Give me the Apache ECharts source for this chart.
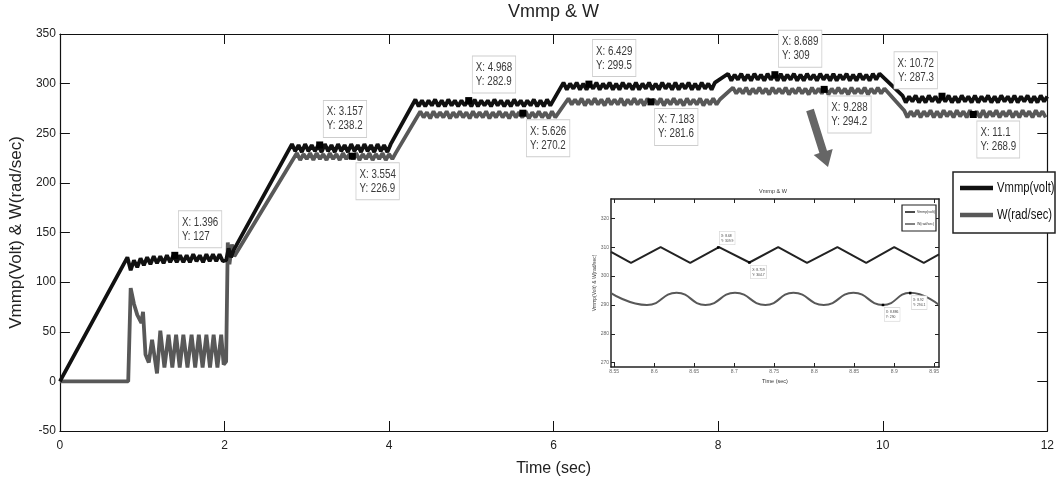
<!DOCTYPE html>
<html><head><meta charset="utf-8">
<script src="https://cdn.jsdelivr.net/npm/echarts@6/dist/echarts.min.js"></script>
<style>html,body{margin:0;padding:0;background:#fff}#c{width:1057px;height:482px}</style>
</head><body><div id="c"></div>
<script>
// ---------------- DATA ----------------
const RIPPLE_STEP = 0.04; // s between consecutive ripple samples (peak / trough)
const xTicks = [0, 2, 4, 6, 8, 10, 12];
const yTicks = [-50, 0, 50, 100, 150, 200, 250, 300, 350];
const insetXTicks = [8.55, 8.6, 8.65, 8.7, 8.75, 8.8, 8.85, 8.9, 8.95];
const insetYTicks = [270, 280, 290, 300, 310, 320];

// Vmmp (volt)
const vmmpRise = [[0, 0], [0.82, 125]];
const vmmpTransition = [[2.02, 122], [2.05, 134], [2.08, 125], [2.11, 132]];
const vmmpRippleStart = [0.82, 2.82, 4.32, 6.12, 8.12, 10.24];
const vmmpRip1 = [125,112,122,115,124,117,125,118,126,119,126,119,127,120,127,120,127,120,127,120,128,121,127,120,128,121,128,121,128,121];
const vmmpRip2 = [239,232,238,231,239,232,238,232,238,231,239,232,238,231,239,232,238,231,239,232,238,231,239,232,238,231,239,232,238,231,239];
const vmmpRip3 = [284,277,283,277,283,278,284,277,283,277,284,278,283,277,283,278,283,277,284,277,283,278,283,277,284,278,283,277,283,277,284,278,283,277,283,278,284,277,283,277,284,278];
const vmmpRip4 = [301,294,300,295,301,294,300,294,300,295,301,294,300,295,301,294,300,294,301,295,300,294,301,294,300,295,301,294,300,294,301,295,300,294,301,294,300,295,301,294,300,294,301,295,300,294,301];
const vmmpRip5 = [310,303,309,304,310,303,309,303,310,304,309,303,310,304,309,303,310,303,309,304,310,303,309,303,310,304,309,303,310,304,309,303,310,303,309,304,310,303,309,303,310,304,309,303,310,304,310];
const vmmpRip6 = [288,281,287,282,288,281,287,281,288,282,287,281,287,282,288,281,287,281,288,282,287,281,288,281,287,282,288,281,287,281,288,282,287,281,288,281,287,282,288,281,287,281,288,282,287];

// W (rad/sec)
const wEarly = [[0,0],[0.83,0],[0.86,94],[0.9,78],[0.94,67],[0.99,59],[1.01,70],[1.04,27],[1.08,19],[1.12,42],[1.18,8],[1.22,51],[1.27,14],[1.32,47],[1.366,14],[1.412,47],[1.456,14],[1.5,47],[1.55,14],[1.6,47],[1.644,14],[1.688,47],[1.734,14],[1.78,47],[1.824,14],[1.868,47],[1.914,14],[1.96,47],[1.99,17],[2.02,20],[2.04,140],[2.06,118],[2.09,138],[2.12,126]];
const wRippleStart = [2.88, 4.38, 6.18, 8.18, 10.26];
const wRip2 = [230,223,229,224,230,223,230,224,229,223,230,224,229,223,230,224,229,224,230,223,229,224,230,223,229,224,230,223,229,224,230];
const wRip3 = [272,266,271,265,272,266,271,266,272,265,271,266,272,266,271,265,272,266,271,266,272,265,271,266,272,266,271,265,272,266,271,266,272,265,271,266,272,266,271,265,272,266];
const wRip4 = [285,279,284,279,285,278,284,279,285,279,284,278,285,279,284,279,285,278,284,279,285,279,284,278,285,280,284,279,285,278,284,279,285,279,284,278,285,279,284,279,285,278,284,279,285,279,284];
const wRip5 = [296,290,295,290,296,289,295,290,296,290,295,289,296,290,295,290,296,289,295,290,296,290,295,289,296,290,295,290,296,289,295,290,296,290,295,289,296,290,295,290,296,289,295,290,296,290,295];
const wRip6 = [273,266,272,267,273,266,272,267,273,266,272,266,273,267,272,266,273,267,272,266,273,267,272,266,273,266,272,267,273,266,272,267,273,266,272,266,273,267,272,266,273,267,272,266];

// Data tips (main)
const vmmpTips = [[1.396,127],[3.157,238.2],[4.968,282.9],[6.429,299.5],[8.689,309],[10.72,287.3]];
const wTips = [[3.554,226.9],[5.626,270.2],[7.183,281.6],[9.288,294.2],[11.1,268.9]];

// Inset (zoom 8.55 - 8.95 s)
const insetVmmp = [[8.546,308.4],[8.571,304.6],[8.608,310.0],[8.645,304.6],[8.681,310.0],[8.719,304.7],[8.755,310.0],[8.791,304.6],[8.829,310.0],[8.865,304.6],[8.900,310.0],[8.937,304.6],[8.956,307.5]];
const insetW = [[8.546,294.1],[8.591,290.0],[8.628,294.2],[8.664,290.0],[8.701,294.2],[8.739,290.0],[8.774,294.2],[8.812,290.0],[8.849,294.2],[8.886,290.0],[8.920,294.2],[8.956,290.0]];
const insetVmmpTips = [[8.68,309.9],[8.719,304.7]];
const insetWTips = [[8.886,290],[8.92,294.1]];

// ---------------- BUILD ----------------
function ripple(start, vals) {
  return vals.map((v, i) => [Math.round((start + i * RIPPLE_STEP) * 1000) / 1000, v]);
}
const vmmpData = [].concat(
  vmmpRise, ripple(vmmpRippleStart[0], vmmpRip1), vmmpTransition,
  ripple(vmmpRippleStart[1], vmmpRip2), ripple(vmmpRippleStart[2], vmmpRip3),
  ripple(vmmpRippleStart[3], vmmpRip4), ripple(vmmpRippleStart[4], vmmpRip5),
  ripple(vmmpRippleStart[5], vmmpRip6));
const wData = [].concat(
  wEarly, ripple(wRippleStart[0], wRip2), ripple(wRippleStart[1], wRip3),
  ripple(wRippleStart[2], wRip4), ripple(wRippleStart[3], wRip5), ripple(wRippleStart[4], wRip6));

const SANS = "'Liberation Sans', Arial, sans-serif";

// Data-tip renderer (marker square + condensed text box) — positioned through the axes
function tipSeries(data, places, xi, yi, cfg) {
  return {
    type: 'custom', coordinateSystem: 'cartesian2d', xAxisIndex: xi, yAxisIndex: yi,
    data: data, encode: {x: 0, y: 1}, z: 10, clip: false, silent: true,
    renderItem: function (params, api) {
      const xv = api.value(0), yv = api.value(1);
      const p = api.coord([xv, yv]);
      const pl = places[params.dataIndex];
      let tx, ty, align = 'left';
      if (pl === 'ur') { tx = p[0] + cfg.gapX; ty = p[1] - cfg.gapY - cfg.boxH; }
      else if (pl === 'lr') { tx = p[0] + cfg.gapX; ty = p[1] + cfg.gapY; }
      else { tx = p[0] - cfg.gapX - 1; ty = p[1] - cfg.gapY - cfg.boxH; align = 'right'; }
      const s = cfg.marker;
      return {type: 'group', children: [
        {type: 'text', x: tx, y: ty, scaleX: cfg.scaleX, style: {
          text: 'X: ' + xv + '\nY: ' + yv, align: align, verticalAlign: 'top',
          fontFamily: SANS, fontSize: cfg.fontSize, lineHeight: cfg.lineHeight, fill: cfg.color,
          backgroundColor: '#fff', borderColor: '#cdcdcd', borderWidth: cfg.border, padding: cfg.padding}},
        {type: 'rect', shape: {x: p[0] - s / 2, y: p[1] - s / 2, width: s, height: s}, style: {fill: '#000'}}
      ]};
    }
  };
}
const mainTip = {gapX: 4, gapY: 7, boxH: 37, marker: 7, scaleX: 0.78, fontSize: 12.5, lineHeight: 14,
  color: '#3a3a3a', border: 1, padding: [4, 4, 4, 4]};
const insetTip = {gapX: 1.5, gapY: 3, boxH: 13, marker: 2.5, scaleX: 0.85, fontSize: 4, lineHeight: 5,
  color: '#444', border: 0.6, padding: [1.5, 1.5, 1.5, 1.5]};

const axisLineStyle = {color: '#111', width: 1.2};
const insetLineStyle = {color: '#222', width: 1.5};

const option = {
  animation: false,
  backgroundColor: '#fff',
  title: {text: 'Vmmp & W', left: 508, top: 3, padding: 0,
    textStyle: {fontFamily: SANS, fontSize: 18, fontWeight: 'normal', color: '#222'}},
  grid: [
    {left: 53, top: 34, width: 1000, height: 400},
    {left: 611, top: 199, width: 328, height: 168}
  ],
  xAxis: [
    {gridIndex: 0, type: 'value', min: xTicks[0], max: xTicks[xTicks.length - 1], interval: 2,
      position: 'bottom', axisLine: {onZero: false, lineStyle: axisLineStyle},
      axisTick: {inside: true, length: 10, lineStyle: {color: '#111', width: 1}},
      axisLabel: {fontFamily: SANS, fontSize: 12, color: '#222', margin: 9},
      splitLine: {show: false},
      name: 'Time (sec)', nameLocation: 'middle', nameGap: 30,
      nameTextStyle: {fontFamily: SANS, fontSize: 16, color: '#222'}},
    {gridIndex: 0, type: 'value', min: 0, max: 12, interval: 2, position: 'top',
      axisLine: {onZero: false, lineStyle: axisLineStyle},
      axisTick: {inside: true, length: 10, lineStyle: {color: '#111', width: 1}},
      axisLabel: {show: false}, splitLine: {show: false}},
    {gridIndex: 1, type: 'value', min: 8.546, max: 8.956, position: 'bottom',
      axisLine: {onZero: false, lineStyle: insetLineStyle},
      axisTick: {inside: true, length: 4, customValues: insetXTicks, lineStyle: {color: '#222', width: 1}},
      axisLabel: {customValues: insetXTicks, fontFamily: SANS, fontSize: 5, color: '#666', margin: 2,
        formatter: v => String(v)},
      splitLine: {show: false},
      name: 'Time (sec)', nameLocation: 'middle', nameGap: 11,
      nameTextStyle: {fontFamily: SANS, fontSize: 5.5, color: '#333'}},
    {gridIndex: 1, type: 'value', min: 8.546, max: 8.956, position: 'top',
      axisLine: {onZero: false, lineStyle: insetLineStyle},
      axisTick: {inside: true, length: 4, customValues: insetXTicks, lineStyle: {color: '#222', width: 1}},
      axisLabel: {show: false}, splitLine: {show: false}}
  ],
  yAxis: [
    {gridIndex: 0, type: 'value', min: yTicks[0], max: yTicks[yTicks.length - 1], interval: 50,
      position: 'left', axisLine: {show: true, onZero: false, lineStyle: axisLineStyle},
      axisTick: {show: true, inside: true, length: 10, lineStyle: {color: '#111', width: 1}},
      axisLabel: {fontFamily: SANS, fontSize: 12, color: '#222', margin: 4},
      splitLine: {show: false},
      name: 'Vmmp(Volt) & W(rad/sec)', nameLocation: 'middle', nameGap: 25,
      nameTextStyle: {fontFamily: SANS, fontSize: 17, color: '#222'}},
    {gridIndex: 0, type: 'value', min: -50, max: 350, interval: 50, position: 'right',
      axisLine: {show: true, onZero: false, lineStyle: axisLineStyle},
      axisTick: {show: true, inside: true, length: 10, lineStyle: {color: '#111', width: 1}},
      axisLabel: {show: false}, splitLine: {show: false}},
    {gridIndex: 1, type: 'value', min: 268.5, max: 326.7, position: 'left',
      axisLine: {show: true, onZero: false, lineStyle: insetLineStyle},
      axisTick: {show: true, inside: true, length: 4, customValues: insetYTicks, lineStyle: {color: '#222', width: 1}},
      axisLabel: {customValues: insetYTicks, fontFamily: SANS, fontSize: 5, color: '#666', margin: 2},
      splitLine: {show: false},
      name: 'Vmmp(Volt) & W(rad/sec)', nameLocation: 'middle', nameGap: 7,
      nameTextStyle: {fontFamily: SANS, fontSize: 5, color: '#444'}},
    {gridIndex: 1, type: 'value', min: 268.5, max: 326.7, position: 'right',
      axisLine: {show: true, onZero: false, lineStyle: insetLineStyle},
      axisTick: {show: true, inside: true, length: 4, customValues: insetYTicks, lineStyle: {color: '#222', width: 1}},
      axisLabel: {show: false}, splitLine: {show: false}}
  ],
  series: [
    {name: 'W(rad/sec)', type: 'line', xAxisIndex: 0, yAxisIndex: 0, data: wData,
      showSymbol: false, color: '#585858', lineStyle: {width: 3.8, color: '#585858'}, z: 2},
    {name: 'Vmmp(volt)', type: 'line', xAxisIndex: 0, yAxisIndex: 0, data: vmmpData,
      showSymbol: false, color: '#111', lineStyle: {width: 3.8, color: '#111'}, z: 3},
    {name: 'W inset', type: 'line', xAxisIndex: 2, yAxisIndex: 2, data: insetW, smooth: 0.5,
      showSymbol: false, lineStyle: {width: 2, color: '#585858'}, z: 4},
    {name: 'Vmmp inset', type: 'line', xAxisIndex: 2, yAxisIndex: 2, data: insetVmmp,
      showSymbol: false, lineStyle: {width: 2, color: '#222'}, z: 4},
    tipSeries(wTips, ['lr', 'lr', 'lr', 'lr', 'lr'], 0, 0, mainTip),
    tipSeries(vmmpTips, ['ur', 'ur', 'ur', 'ur', 'ur', 'ul'], 0, 0, mainTip),
    tipSeries(insetWTips, ['lr', 'lr'], 2, 2, insetTip),
    tipSeries(insetVmmpTips, ['ur', 'lr'], 2, 2, insetTip)
  ],
  graphic: [
    // inset title
    {type: 'text', x: 773, y: 191, z: 20, style: {text: 'Vmmp & W', fontFamily: SANS, fontSize: 5.5,
      fill: '#333', align: 'center', verticalAlign: 'middle'}},
    // inset legend
    {type: 'rect', z: 20, shape: {x: 902, y: 205, width: 34, height: 26},
      style: {fill: '#fff', stroke: '#222', lineWidth: 1.2}},
    {type: 'line', z: 21, shape: {x1: 905, y1: 212, x2: 915, y2: 212}, style: {stroke: '#111', lineWidth: 1.5}},
    {type: 'line', z: 21, shape: {x1: 905, y1: 224, x2: 915, y2: 224}, style: {stroke: '#585858', lineWidth: 1.5}},
    {type: 'text', z: 21, x: 917, y: 212, style: {text: 'Vmmp(volt)', fontFamily: SANS, fontSize: 3.5, fill: '#333', verticalAlign: 'middle'}},
    {type: 'text', z: 21, x: 917, y: 224, style: {text: 'W(rad/sec)', fontFamily: SANS, fontSize: 3.5, fill: '#333', verticalAlign: 'middle'}},
    // arrow pointing to the inset
    {type: 'polygon', z: 20, shape: {points: [[806.2,111.2],[813.8,108.8],[827,150.7],[832.7,148.9],[828,167],[813.7,154.9],[819.4,153.1]]},
      style: {fill: '#666'}},
    // main legend
    {type: 'rect', z: 20, shape: {x: 953, y: 172, width: 102, height: 61},
      style: {fill: '#fff', stroke: '#222', lineWidth: 1.5}},
    {type: 'line', z: 21, shape: {x1: 960, y1: 188, x2: 993, y2: 188}, style: {stroke: '#111', lineWidth: 4.5}},
    {type: 'line', z: 21, shape: {x1: 960, y1: 215, x2: 993, y2: 215}, style: {stroke: '#585858', lineWidth: 4.5}},
    {type: 'text', z: 21, x: 997, y: 188, scaleX: 0.75, style: {text: 'Vmmp(volt)', fontFamily: SANS, fontSize: 15, fill: '#111', verticalAlign: 'middle'}},
    {type: 'text', z: 21, x: 997, y: 215, scaleX: 0.75, style: {text: 'W(rad/sec)', fontFamily: SANS, fontSize: 15, fill: '#111', verticalAlign: 'middle'}}
  ]
};

const chart = echarts.init(document.getElementById('c'), null, {renderer: 'canvas'});
chart.setOption(option);
</script></body></html>
